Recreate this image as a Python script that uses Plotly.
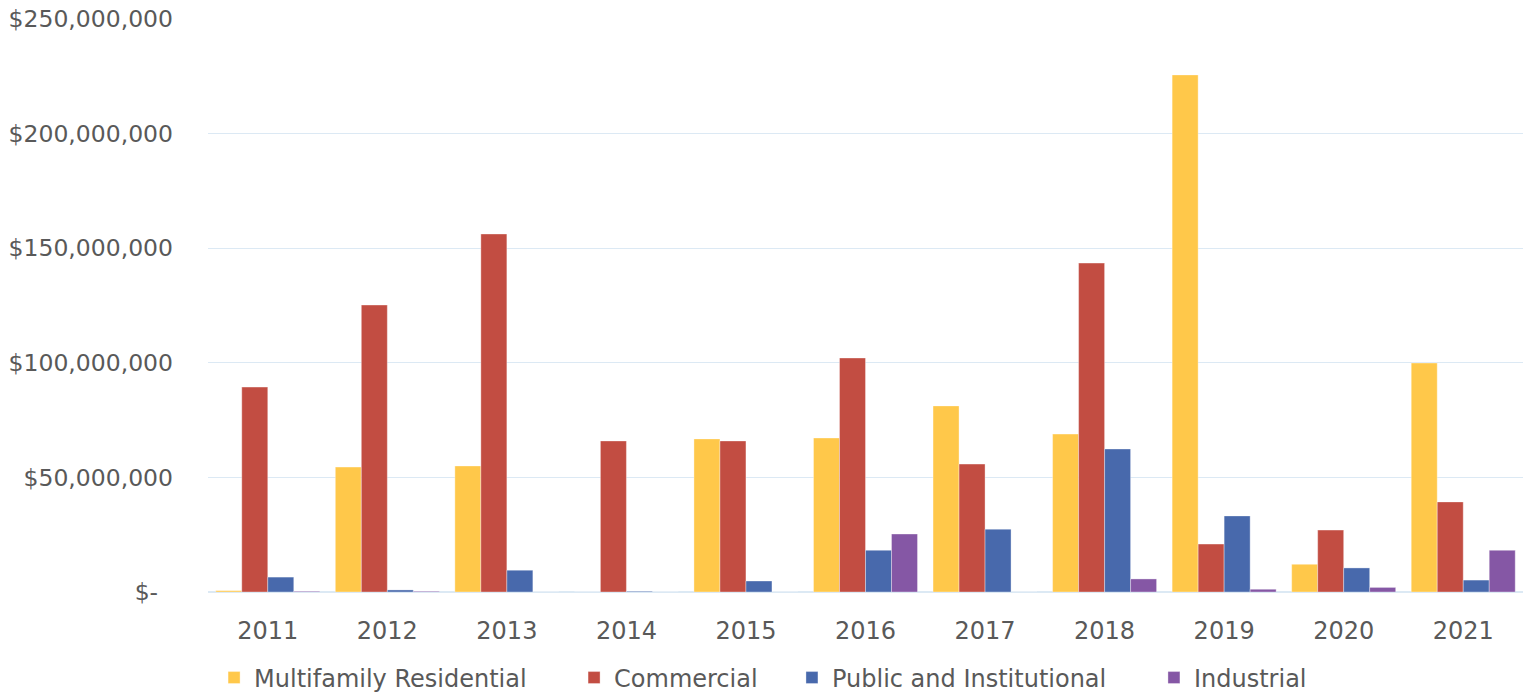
import plotly.graph_objects as go

years = ["2011", "2012", "2013", "2014", "2015", "2016", "2017", "2018", "2019", "2020", "2021"]
multifamily = [0.6e6, 54.5e6, 55.0e6, 0, 66.8e6, 67.2e6, 81.2e6, 68.9e6, 225.6e6, 12.1e6, 99.9e6]
commercial = [89.4e6, 125.2e6, 156.2e6, 65.9e6, 65.9e6, 102.1e6, 55.8e6, 143.5e6, 20.9e6, 27.0e6, 39.3e6]
public_inst = [6.5e6, 0.9e6, 9.5e6, 0.3e6, 4.8e6, 18.2e6, 27.4e6, 62.4e6, 33.2e6, 10.5e6, 5.2e6]
industrial = [0.3e6, 0.3e6, 0, 0, 0, 25.3e6, 0, 5.7e6, 1.2e6, 2.0e6, 18.2e6]

series = [
    ("Multifamily Residential", multifamily, "#FFC84A", "legend", 0.1401),
    ("Commercial", commercial, "#C24D42", "legend2", 0.3757),
    ("Public and Institutional", public_inst, "#4869AC", "legend3", 0.5183),
    ("Industrial", industrial, "#8557A5", "legend4", 0.7552),
]

tick_vals = [0, 50e6, 100e6, 150e6, 200e6, 250e6]
tick_text = ["$-\u00a0\u00a0", "$50,000,000", "$100,000,000", "$150,000,000", "$200,000,000", "$250,000,000"]

font_family = "'DejaVu Sans', 'Noto Sans', sans-serif"
text_color = "#595959"
fsize = 24

fig = go.Figure()
layout_legends = {}
for name, vals, color, leg, lx in series:
    fig.add_trace(go.Bar(
        name=name, x=years, y=vals, legend=leg,
        marker=dict(color=color, line=dict(color="rgba(255,255,255,0.35)", width=1)),
    ))
    layout_legends[leg] = dict(
        orientation="h", xref="container", yref="container",
        x=lx, y=0.0231, xanchor="left", yanchor="middle",
        font=dict(size=fsize, color=text_color, family=font_family),
        bgcolor="rgba(0,0,0,0)", borderwidth=0,
    )

fig.update_layout(
    barmode="group",
    bargap=0.13,
    bargroupgap=0,
    width=1528, height=694,
    margin=dict(l=208, r=5, t=19, b=102),
    paper_bgcolor="white",
    plot_bgcolor="white",
    font=dict(family=font_family, size=fsize, color=text_color),
    showlegend=True,
    xaxis=dict(
        automargin=False,
        showgrid=False, showline=False, ticks="",
        ticklabelstandoff=22,
        ticklabeloverflow="allow",
        tickfont=dict(size=fsize, color=text_color),
    ),
    yaxis=dict(
        automargin=False,
        range=[0, 250e6],
        tickvals=tick_vals, ticktext=tick_text,
        showgrid=True, gridcolor="#DCE9F4", gridwidth=1,
        zeroline=True, zerolinecolor="#DCE9F4", zerolinewidth=2,
        showline=False, ticks="",
        ticklabelstandoff=34,
        ticklabeloverflow="allow",
        tickfont=dict(size=23.5, color=text_color),
    ),
    **layout_legends,
)

fig.write_html(
    "out.html",
    config={"displayModeBar": False},
    post_script="document.body.style.margin='0';document.body.style.overflow='hidden';",
)
